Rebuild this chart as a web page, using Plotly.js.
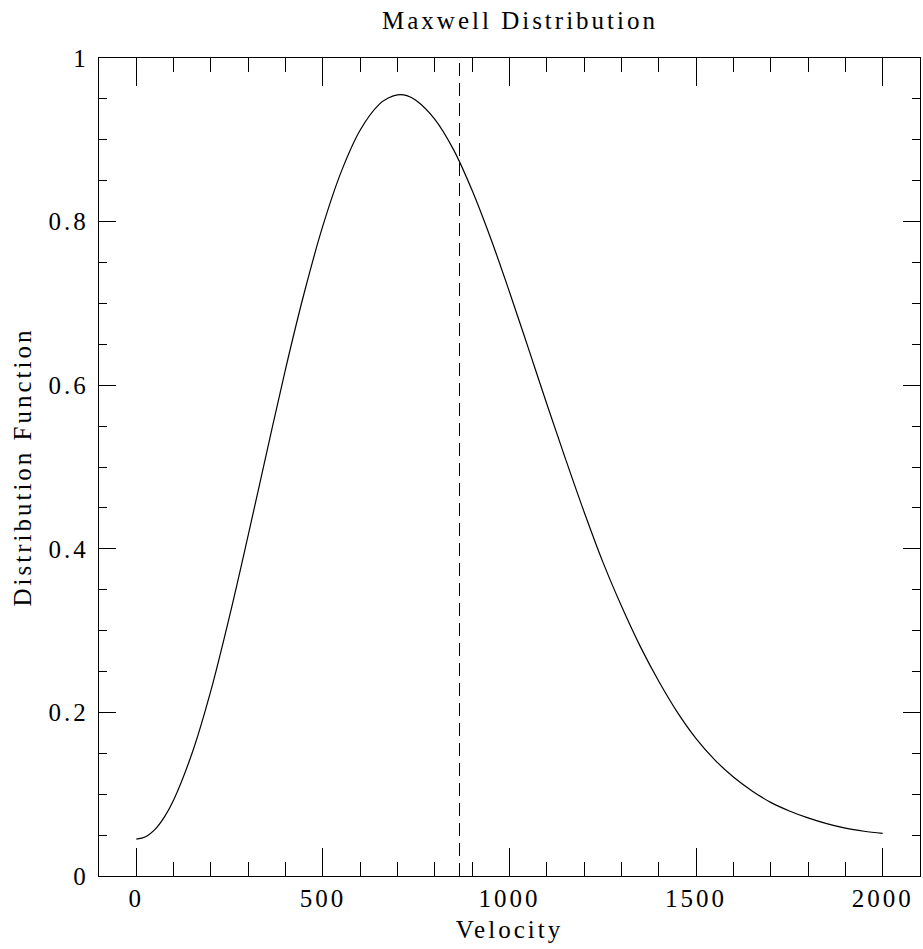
<!DOCTYPE html>
<html>
<head>
<meta charset="utf-8">
<script src="https://cdn.plot.ly/plotly-3.0.1.min.js"></script>
<style>
  html, body { margin: 0; padding: 0; background: #fff; }
  #chart { width: 923px; height: 949px; }
  #chart text { letter-spacing: 3px; }
</style>
</head>
<body>
<div id="chart"></div>
<script>
// Values
const velocity = [0, 25, 50, 75, 100, 150, 200, 250, 300, 350, 400, 450, 500, 550, 600, 650, 675, 700, 725, 750, 800, 850, 900, 950,
  1000, 1050, 1100, 1150, 1200, 1250, 1300, 1350, 1400, 1450, 1500, 1550, 1600, 1650, 1700, 1750, 1800, 1850, 1900, 1950, 2000];
const distribution = [0.045, 0.048, 0.057, 0.072, 0.093, 0.151, 0.227, 0.318, 0.417, 0.519, 0.620, 0.713, 0.795, 0.862, 0.912, 0.943, 0.951, 0.955, 0.954, 0.948, 0.925, 0.888, 0.838, 0.779,
  0.714, 0.646, 0.577, 0.510, 0.445, 0.384, 0.330, 0.281, 0.238, 0.200, 0.168, 0.142, 0.121, 0.104, 0.090, 0.0795, 0.071, 0.064, 0.0585, 0.0547, 0.052];
const rmsVelocity = [866, 866];
const rmsLineY = [0, 1];
const xTickVals = [0, 500, 1000, 1500, 2000];
const yTickVals = [0, 0.2, 0.4, 0.6, 0.8, 1];

const fontFamily = '"Liberation Serif", "DejaVu Serif", serif';
const textFont = { family: fontFamily, size: 25, color: '#000' };

const traces = [
  {
    x: velocity, y: distribution, type: 'scatter', mode: 'lines',
    line: { color: '#000', width: 1.2, shape: 'spline', smoothing: 1 },
    hoverinfo: 'skip', showlegend: false
  },
  {
    x: rmsVelocity, y: rmsLineY, type: 'scatter', mode: 'lines',
    line: { color: '#000', width: 1, dash: '13px,7px' },
    hoverinfo: 'skip', showlegend: false
  }
];

const axisCommon = {
  showline: true, linecolor: '#000', linewidth: 1.3, mirror: 'ticks',
  ticks: 'inside', tickcolor: '#000', tickwidth: 1,
  showgrid: false, zeroline: false,
  tickfont: textFont
};

const layout = {
  width: 923, height: 949,
  margin: { l: 99, r: 3, t: 58, b: 73, pad: 0 },
  paper_bgcolor: '#fff', plot_bgcolor: '#fff',
  title: {
    text: 'Maxwell Distribution',
    font: textFont,
    x: 0.5128, xref: 'paper', xanchor: 'center',
    y: 1 - 20 / 949, yref: 'container', yanchor: 'middle'
  },
  xaxis: Object.assign({}, axisCommon, {
    range: [-100, 2100], tickvals: xTickVals, ticklen: 28,
    minor: { dtick: 100, tick0: 0, ticklen: 14, ticks: 'inside', tickcolor: '#000', tickwidth: 1, showgrid: false },
    ticklabelstandoff: 0,
    title: { text: 'Velocity', font: textFont, standoff: 9 }
  }),
  yaxis: Object.assign({}, axisCommon, {
    range: [0, 1], tickvals: yTickVals, ticklen: 17,
    minor: { dtick: 0.05, tick0: 0, ticklen: 8, ticks: 'inside', tickcolor: '#000', tickwidth: 1, showgrid: false },
    ticklabelstandoff: 4,
    title: { text: 'Distribution Function', font: textFont, standoff: 18 }
  })
};

Plotly.newPlot('chart', traces, layout, { staticPlot: true, displayModeBar: false });
</script>
</body>
</html>
